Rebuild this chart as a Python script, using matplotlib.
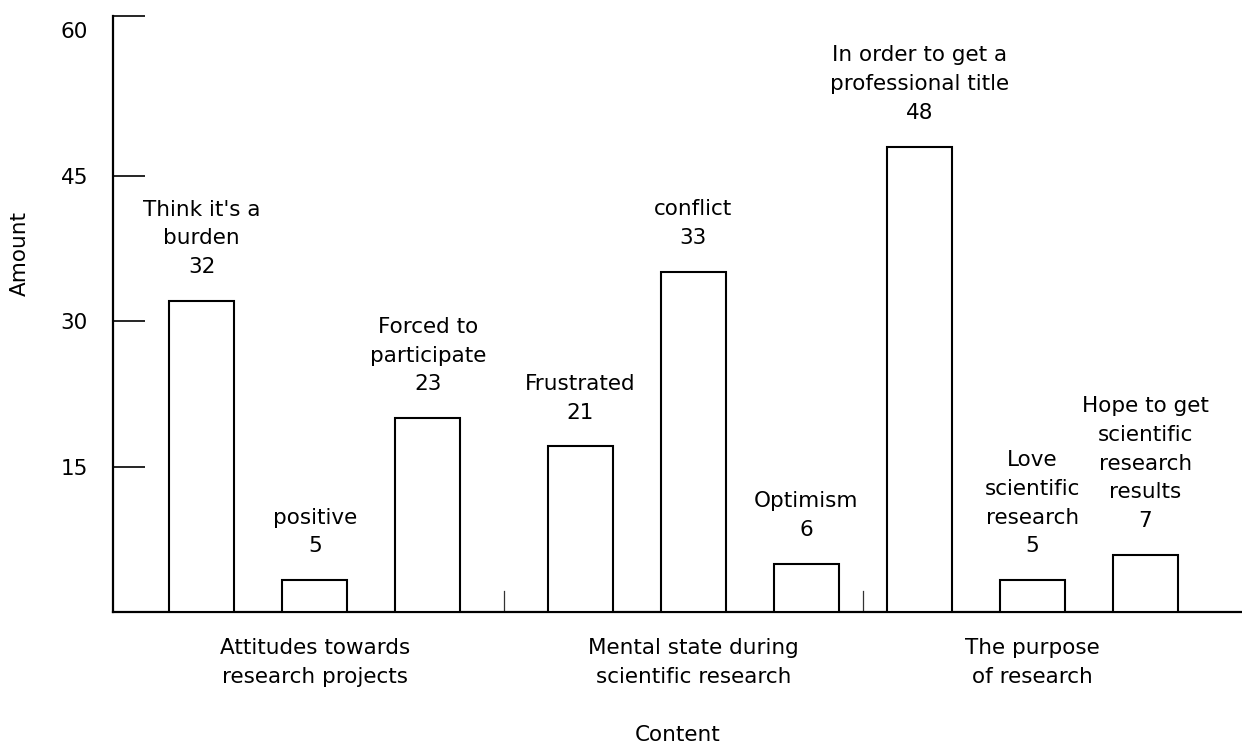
import numpy as np
import matplotlib
matplotlib.use("Agg")
import matplotlib.pyplot as plt

# ---- data ----
categories = ["Think it's a\nburden", "positive", "Forced to\nparticipate",
              "Frustrated", "conflict", "Optimism",
              "In order to get a\nprofessional title", "Love\nscientific\nresearch",
              "Hope to get\nscientific\nresearch\nresults"]
printed_values = [32, 5, 23, 21, 33, 6, 48, 5, 7]
bar_heights = [32.1, 3.3, 20.0, 17.1, 35.1, 5.0, 48.0, 3.3, 5.9]
group_index = [0, 0, 0, 1, 1, 1, 2, 2, 2]
group_names = ["Attitudes towards\nresearch projects",
               "Mental state during\nscientific research",
               "The purpose\nof research"]
y_ticks = [15, 30, 45, 60]
y_max = 61.5

plt.rcParams['font.family'] = ['DejaVu Sans']
FS = 15.5

fig = plt.figure(figsize=(12.42, 7.54), dpi=100)
W, H = 1242, 754
ax_left, ax_right, ax_top, ax_bottom = 113, 1242, 15.7, 612
ax = fig.add_axes([ax_left / W, (H - ax_bottom) / H,
                   (ax_right - ax_left) / W, (ax_bottom - ax_top) / H])

# layout: extra gap only after first group
gaps = np.array([0.0, 0.0, 0.0, 0.35, 0.35, 0.35, 0.35, 0.35, 0.35])
x = np.arange(len(categories)) + gaps
bar_w = 0.575

ax.bar(x, bar_heights, width=bar_w, facecolor='white', edgecolor='black',
       linewidth=1.5, zorder=3)

for xi, h, cat, v in zip(x, bar_heights, categories, printed_values):
    ax.annotate(f"{cat}\n{v}", xy=(xi, h), xytext=(0, 17),
                textcoords='offset points', ha='center', va='bottom',
                fontsize=FS, linespacing=1.55)

# group labels centred under groups
gi = np.array(group_index)
for g, name in enumerate(group_names):
    cx = x[gi == g].mean()
    ax.annotate(name, xy=(cx, 0), xycoords=('data', 'axes fraction'),
                xytext=(0, -36.5), textcoords='offset points',
                ha='center', va='center', fontsize=FS, linespacing=1.6)

# small group separators at the base
for g in range(1, len(group_names)):
    sep = (x[gi == g - 1].max() + x[gi == g].min()) / 2
    ax.axvline(sep, ymin=0, ymax=0.035, color='#333333', linewidth=0.9)

ax.set_xlim(-0.785, -0.785 + (ax_right - ax_left) / 113)
ax.set_ylim(0, y_max)
ax.set_xticks([])
ax.set_yticks(y_ticks)
ax.set_yticks([y_max], minor=True)
ax.tick_params(axis='y', which='both', direction='in', length=23, width=1.2,
               pad=18, labelsize=FS, colors='black')
# the top label has no tick line of its own; the axis is capped at its top
ax.yaxis.get_major_ticks()[-1].tick1line.set_visible(False)

for s in ['top', 'right']:
    ax.spines[s].set_visible(False)
for s in ['left', 'bottom']:
    ax.spines[s].set_linewidth(1.6)
    ax.spines[s].set_color('black')

ax.set_xlabel('Content', fontsize=FS, va='center')
ax.xaxis.set_label_coords(0.5, (ax_bottom - 735) / (ax_bottom - ax_top))
ax.set_ylabel('Amount', fontsize=FS, va='center')
ax.yaxis.set_label_coords((20 - ax_left) / (ax_right - ax_left),
                          (ax_bottom - 253) / (ax_bottom - ax_top))

fig.savefig('out.png', dpi=100)
